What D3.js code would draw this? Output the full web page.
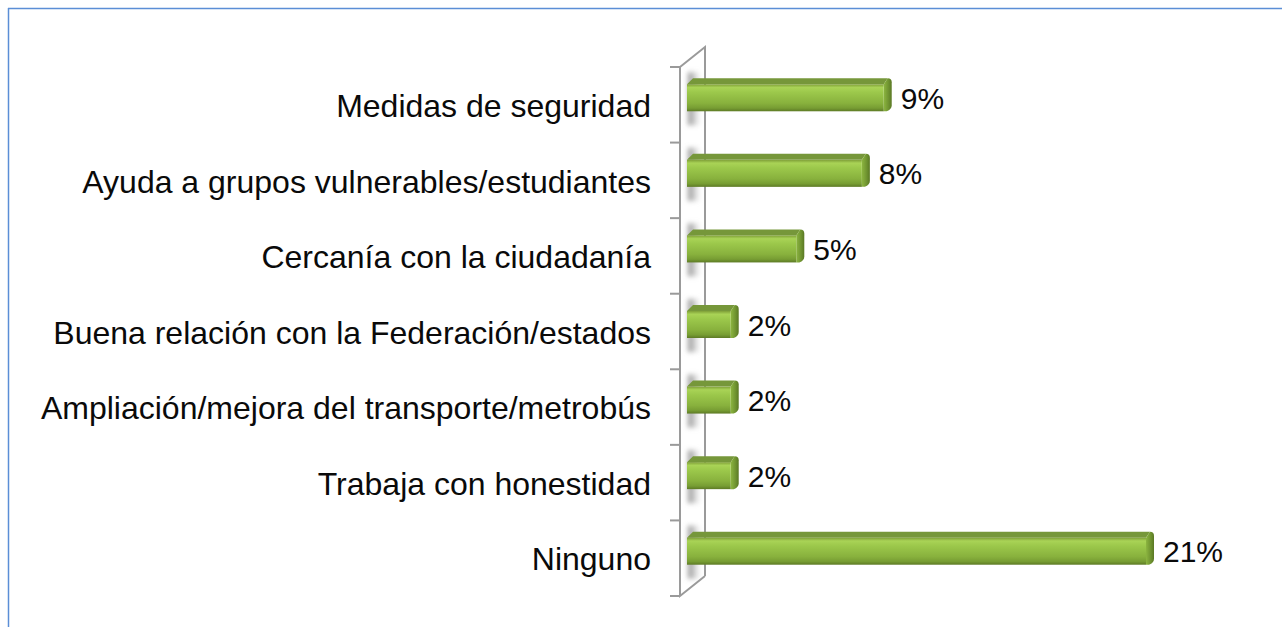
<!DOCTYPE html>
<html>
<head>
<meta charset="utf-8">
<script src="https://cdn.jsdelivr.net/npm/d3@7"></script>
<style>
  body { margin: 0; background: #fff; }
  text { font-family: "Liberation Sans", Arial, sans-serif; fill: #0a0a0a; }
</style>
</head>
<body>
<div class="chart"></div>
<script>
const categories = [
  "Medidas de seguridad",
  "Ayuda a grupos vulnerables/estudiantes",
  "Cercanía con la ciudadanía",
  "Buena relación con la Federación/estados",
  "Ampliación/mejora del transporte/metrobús",
  "Trabaja con honestidad",
  "Ninguno"
];
const values = [9, 8, 5, 2, 2, 2, 21];
const valueLabels = ["9%", "8%", "5%", "2%", "2%", "2%", "21%"];

const width = 1282, height = 627;
const depthX = 25, depthY = 20;   // wall depth
const barH = 27, barD = 6;        // bar thickness and 3d top

const svg = d3.select(".chart").append("svg")
    .attr("width", width)
    .attr("height", height)
    .attr("viewBox", [0, 0, width, height]);

const defs = svg.append("defs");

const frontGrad = defs.append("linearGradient")
    .attr("id", "front").attr("x1", 0).attr("y1", 0).attr("x2", 0).attr("y2", 1);
[[0, "#7f9f38"], [0.12, "#a9d356"], [0.3, "#9cc84b"], [0.7, "#88b13d"], [0.88, "#779d33"], [1, "#5d7a25"]]
  .forEach(([o, c]) => frontGrad.append("stop").attr("offset", o).attr("stop-color", c));

const capGrad = defs.append("linearGradient")
    .attr("id", "cap").attr("x1", 0).attr("y1", 0).attr("x2", 1).attr("y2", 0);
[[0, "#8cb540"], [0.6, "#6f9330"], [1, "#5a7824"]]
  .forEach(([o, c]) => capGrad.append("stop").attr("offset", o).attr("stop-color", c));

const shadowGrad = defs.append("linearGradient")
    .attr("id", "shade").attr("x1", 0).attr("y1", 0).attr("x2", 1).attr("y2", 0);
[[0, "#8a8a8a", 1], [0.6, "#c8c8c8", 0.6], [1, "#ffffff", 0]]
  .forEach(([o, c, a]) => shadowGrad.append("stop").attr("offset", o).attr("stop-color", c).attr("stop-opacity", a));

defs.append("filter").attr("id", "blur")
    .attr("x", "-50%").attr("y", "-50%").attr("width", "200%").attr("height", "200%")
  .append("feGaussianBlur").attr("stdDeviation", 2.5);

// frame lines
svg.append("line").attr("x1", 8).attr("x2", width).attr("y1", 8.5).attr("y2", 8.5)
    .attr("stroke", "#5b8ed6").attr("stroke-width", 1.5);
svg.append("line").attr("x1", 8.5).attr("x2", 8.5).attr("y1", 8).attr("y2", height)
    .attr("stroke", "#5b8ed6").attr("stroke-width", 1.5);

const x = d3.scaleLinear().domain([0, 21]).range([687, 1146]);
const y = d3.scaleBand().domain(categories).range([67, 596]).paddingInner(0).paddingOuter(0);

const wallX = 680, wallTop = y.range()[0], wallBottom = y.range()[1];

// wall
svg.append("path")
    .attr("d", `M${wallX},${wallTop} L${wallX + depthX},${wallTop - depthY} L${wallX + depthX},${wallBottom - depthY} L${wallX},${wallBottom} Z`)
    .attr("fill", "#fff");

// shadows cast on the wall
svg.append("g").selectAll("rect")
  .data(categories)
  .join("rect")
    .attr("x", wallX + 8)
    .attr("width", 14)
    .attr("y", d => y(d) + y.bandwidth() / 2 - 7 - barH / 2 - 12)
    .attr("height", barH + 26)
    .attr("fill", "url(#shade)")
    .attr("filter", "url(#blur)");

svg.append("path")
    .attr("d", `M${wallX},${wallTop} L${wallX + depthX},${wallTop - depthY} L${wallX + depthX},${wallBottom - depthY} M${wallX + depthX},${wallBottom - depthY} L${wallX},${wallBottom} L${wallX},${wallTop}`)
    .attr("fill", "none")
    .attr("stroke", "#9a9a9a")
    .attr("stroke-width", 2);

// ticks
svg.append("g").selectAll("line")
  .data(d3.range(categories.length + 1))
  .join("line")
    .attr("x1", wallX - 10).attr("x2", wallX)
    .attr("y1", i => wallTop + i * y.step())
    .attr("y2", i => wallTop + i * y.step())
    .attr("stroke", "#9a9a9a")
    .attr("stroke-width", 2);

// bars
const data = categories.map((c, i) => ({ c, v: values[i], label: valueLabels[i] }));
const barY = d => y(d.c) + y.bandwidth() / 2 - 7;

const bars = svg.append("g").selectAll("g")
  .data(data)
  .join("g");

bars.append("path") // top face
    .attr("d", d => {
      const x0 = x(0), x1 = x(d.v), yt = barY(d) - barH / 2;
      return `M${x0},${yt} L${x0 + barD},${yt - barD} L${x1 + barD - 2},${yt - barD} L${x1},${yt} Z`;
    })
    .attr("fill", "#76973a");

bars.append("path") // right cap
    .attr("d", d => {
      const x1 = x(d.v), yt = barY(d) - barH / 2, yb = barY(d) + barH / 2;
      return `M${x1},${yt} L${x1 + barD - 2},${yt - barD} Q${x1 + barD + 2},${yt - barD} ${x1 + barD + 2},${yt - barD + 4} L${x1 + barD + 2},${yb - barD} Q${x1 + barD + 2},${yb - 2} ${x1 + 3},${yb} L${x1},${yb} Z`;
    })
    .attr("fill", "url(#cap)");

bars.append("rect") // front face
    .attr("x", x(0))
    .attr("y", d => barY(d) - barH / 2)
    .attr("width", d => x(d.v) - x(0))
    .attr("height", barH)
    .attr("fill", "url(#front)");

// value labels
bars.append("text")
    .attr("x", d => x(d.v) + 17)
    .attr("y", d => barY(d))
    .attr("dy", "0.37em")
    .attr("font-size", 30)
    .text(d => d.label);

// category labels
svg.append("g").selectAll("text")
  .data(categories)
  .join("text")
    .attr("x", 651)
    .attr("y", d => y(d) + y.bandwidth() / 2)
    .attr("dy", "0.38em")
    .attr("text-anchor", "end")
    .attr("font-size", 32)
    .text(d => d);
</script>
</body>
</html>
